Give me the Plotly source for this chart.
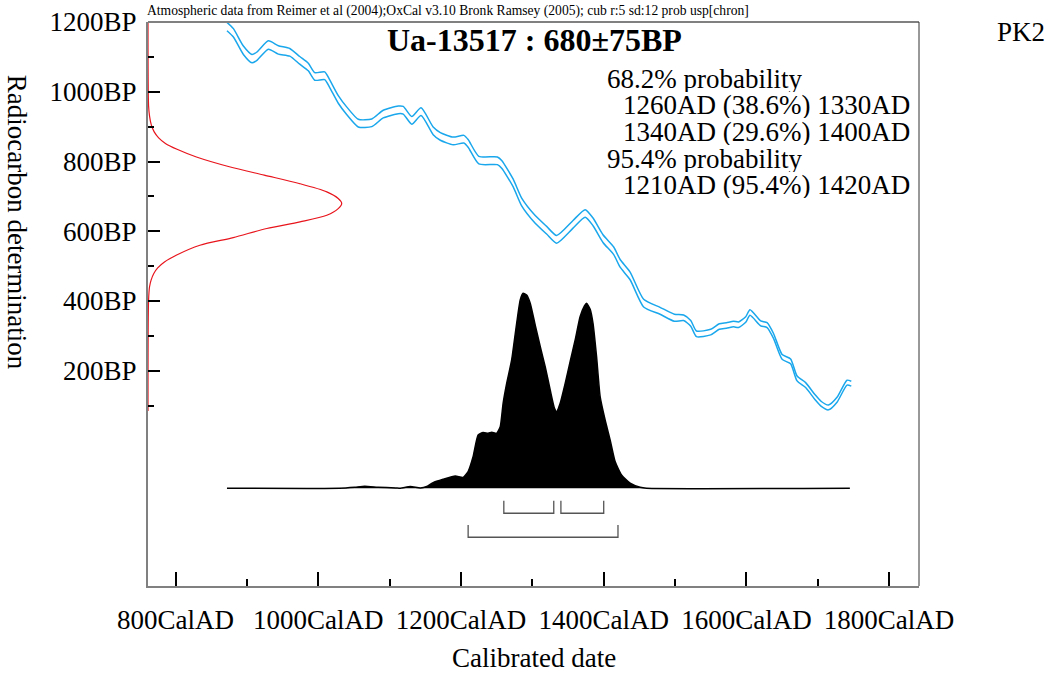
import plotly.graph_objects as go

# ---------------- data ----------------
# calibration curve (centre, BP) and 1-sigma half width
cal_year = [872, 881, 895, 907, 914, 930, 944, 960, 974, 986, 995, 1009, 1016, 1028, 1040,
            1056, 1075, 1091, 1112, 1119, 1131, 1144, 1161, 1171, 1189, 1204, 1210, 1225, 1251, 1257,
            1273, 1285, 1304, 1320, 1334, 1357, 1374, 1385, 1399, 1414, 1423, 1437, 1456, 1479, 1499,
            1512, 1522, 1530, 1550, 1562, 1572, 1582, 1589, 1599, 1605, 1620, 1629, 1638, 1650, 1662,
            1671, 1683, 1696, 1705, 1715, 1727, 1741, 1747]
cal_bp = [1187, 1169, 1119, 1095, 1102, 1134, 1120, 1113, 1090, 1071, 1044, 1046, 1023, 978, 945,
          910, 911, 936, 948, 947, 918, 943, 888, 872, 859, 864, 852, 804, 802, 792,
          739, 684, 634, 603, 577, 620, 651, 627, 579, 544, 508, 472, 394, 372, 352,
          352, 336, 306, 311, 327, 330, 334, 332, 347, 367, 336, 331, 300, 240, 227,
          178, 159, 125, 105, 95, 117, 166, 163]
cal_sigma = [12, 12, 12, 12, 12, 12, 12, 11, 11, 11, 11, 11, 11, 11, 11,
             11, 11, 11, 11, 11, 11, 11, 11, 11, 11, 11, 11, 11, 11, 11,
             11, 11, 11, 11, 11, 11, 11, 11, 11, 11, 11, 11, 11, 10, 10,
             8, 8, 8, 8, 8, 8, 8, 8, 8, 8, 7, 7, 7, 7, 7,
             7, 7, 7, 7, 7, 7, 7, 7]

# calibrated probability distribution (relative)
dist_year = [872, 1030, 1051, 1065, 1084, 1108, 1115, 1129, 1143, 1152,
             1161, 1175, 1192, 1203, 1210, 1217, 1224, 1231, 1238, 1243,
             1250, 1255, 1259, 1264, 1271, 1278, 1283, 1287, 1292, 1297,
             1304, 1311, 1318, 1325, 1331, 1334, 1339, 1346, 1353, 1360,
             1367, 1373, 1376, 1381, 1385, 1390, 1395, 1402, 1409, 1416,
             1425, 1437, 1451, 1460, 1745]
dist_prob = [0, 0, 0.005, 0.010, 0.005, 0.002, 0, 0.009, 0.002, 0.009,
             0.029, 0.046, 0.063, 0.056, 0.086, 0.163, 0.273, 0.286, 0.282, 0.287,
             0.282, 0.316, 0.436, 0.538, 0.658, 0.846, 0.966, 1.0, 0.991, 0.949,
             0.837, 0.727, 0.624, 0.504, 0.410, 0.393, 0.436, 0.538, 0.650, 0.761,
             0.881, 0.935, 0.949, 0.918, 0.846, 0.675, 0.470, 0.350, 0.248, 0.137,
             0.068, 0.026, 0.005, 0, 0]

# radiocarbon determination (relative density vs BP)
red_bp = [1200, 960, 930, 905, 885, 868, 852, 835, 813, 785, 761, 737, 713, 694, 680,
          665, 646, 627, 608, 582, 560, 532, 512, 495, 479, 460, 441, 403, 85]
red_p = [0, 0.003, 0.008, 0.017, 0.032, 0.055, 0.09, 0.15, 0.25, 0.42, 0.6, 0.78, 0.923, 0.982, 1.0,
         0.982, 0.923, 0.785, 0.613, 0.44, 0.268, 0.148, 0.085, 0.05, 0.03, 0.016, 0.008, 0.003, 0]

range68 = [(1260, 1330), (1340, 1400)]
range95 = [(1210, 1420)]

x_ticks = [800, 1000, 1200, 1400, 1600, 1800]
x_minor = [900, 1100, 1300, 1500, 1700]
y_ticks = [200, 400, 600, 800, 1000, 1200]
y_minor = [100, 300, 500, 700, 900, 1100]

title_text = "Ua-13517 : 680±75BP"
note_text = ("Atmospheric data from Reimer et al (2004);OxCal v3.10 Bronk Ramsey (2005); "
             "cub r:5 sd:12 prob usp[chron]")
prob_lines = [("68.2% probability", 0), ("1260AD (38.6%) 1330AD", 1), ("1340AD (29.6%) 1400AD", 1),
              ("95.4% probability", 0), ("1210AD (95.4%) 1420AD", 1)]

# ---------------- figure ----------------
FONT = "Liberation Serif, Times New Roman, serif"
BLUE = "#1aa7ec"
W, H = 1053, 675
L, R, T, B = 148, 919, 22, 586
FS = 27

fig = go.Figure()

upper = [c + s for c, s in zip(cal_bp, cal_sigma)]
lower = [c - s for c, s in zip(cal_bp, cal_sigma)]
for band in (upper, lower):
    fig.add_trace(go.Scatter(x=cal_year, y=band, mode="lines",
                             line=dict(color=BLUE, width=1.5, shape="spline", smoothing=0.6),
                             hoverinfo="skip", showlegend=False))

# probability distribution on secondary y axis
fig.add_trace(go.Scatter(x=dist_year, y=dist_prob, mode="lines", fill="tozeroy", fillcolor="black",
                         line=dict(color="black", width=1.5, shape="spline", smoothing=0.5),
                         yaxis="y2", hoverinfo="skip", showlegend=False))

# brackets
def bracket(x0, x1, ytop, ybot):
    return go.Scatter(x=[x0, x0, x1, x1], y=[ytop, ybot, ybot, ytop], mode="lines",
                      line=dict(color="#555555", width=1.3), yaxis="y2", hoverinfo="skip", showlegend=False)

for a, b in range68:
    fig.add_trace(bracket(a, b, -0.064, -0.128))
for a, b in range95:
    fig.add_trace(bracket(a, b, -0.188, -0.251))

# radiocarbon determination on secondary x axis
fig.add_trace(go.Scatter(x=red_p, y=red_bp, mode="lines",
                         line=dict(color="#e8141c", width=1.2, shape="spline", smoothing=0.8),
                         xaxis="x2", hoverinfo="skip", showlegend=False))

pw = R - L
ph = B - T

fig.update_layout(
    width=W, height=H,
    margin=dict(l=L, r=W - R, t=T, b=H - B, pad=0, autoexpand=False),
    paper_bgcolor="white", plot_bgcolor="white",
    font=dict(family=FONT, size=FS, color="black"),
    xaxis=dict(range=[761.3, 1841.9], showgrid=False, zeroline=False, automargin=False,
               showline=True, linecolor="#808080", linewidth=2,
               tickmode="array", tickvals=x_ticks, ticktext=[f"{v}CalAD" for v in x_ticks],
               ticks="inside", ticklen=14, tickwidth=1.5, tickcolor="black",
               minor=dict(tickmode="array", tickvals=x_minor, ticks="inside", ticklen=7, tickwidth=1.5, tickcolor="black"),
               tickfont=dict(family=FONT, size=FS), ticklabelstandoff=9),
    yaxis=dict(range=[-417, 1200], showgrid=False, zeroline=False, automargin=False,
               showline=True, linecolor="#808080", linewidth=2,
               tickmode="array", tickvals=y_ticks, ticktext=[f"{v}BP" for v in y_ticks],
               ticks="inside", ticklen=12, tickwidth=1.5, tickcolor="black",
               minor=dict(tickmode="array", tickvals=y_minor, ticks="inside", ticklen=6, tickwidth=1.5, tickcolor="black"),
               tickfont=dict(family=FONT, size=FS), ticklabelstandoff=4),
    yaxis2=dict(range=[-0.501, 2.391], overlaying="y", visible=False, showgrid=False, zeroline=False),
    xaxis2=dict(range=[0, pw / 193.7], overlaying="x", visible=False, showgrid=False, zeroline=False),
)

# frame: top and right
fig.add_shape(type="line", xref="x domain", yref="y domain", x0=0, x1=1, y0=1, y1=1,
              line=dict(color="#808080", width=2))
fig.add_shape(type="line", xref="x domain", yref="y domain", x0=1, x1=1, y0=0, y1=1,
              line=dict(color="#333333", width=1))

def px(xp):
    return (xp - L) / pw

def py(yp):
    return (B - yp) / ph

fig.add_annotation(text="<b>" + title_text + "</b>", x=px(534), y=py(40), xref="paper", yref="paper",
                   showarrow=False, font=dict(family=FONT, size=32, color="black"),
                   xanchor="center", yanchor="middle")
fig.add_annotation(text=note_text, x=px(145), y=py(10.5), xref="paper", yref="paper",
                   showarrow=False, font=dict(family=FONT, size=13.6, color="black"),
                   xanchor="left", yanchor="middle")
fig.add_annotation(text="PK2", x=px(1020.5), y=py(32), xref="paper", yref="paper",
                   showarrow=False, font=dict(family=FONT, size=FS, color="black"),
                   xanchor="center", yanchor="middle")

line_centres = [78.2, 104.8, 131.5, 158.2, 184.8]
for (txt, indent), yc in zip(prob_lines, line_centres):
    fig.add_annotation(text=txt, x=px(621 if indent else 604.5), y=py(yc), xref="paper", yref="paper",
                       showarrow=False, font=dict(family=FONT, size=FS, color="black"),
                       xanchor="left", yanchor="middle", height=27)

fig.add_annotation(text="Calibrated date", x=px(534), y=py(658), xref="paper", yref="paper",
                   showarrow=False, font=dict(family=FONT, size=FS, color="black"),
                   xanchor="center", yanchor="middle")
fig.add_annotation(text="Radiocarbon determination", x=px(17), y=py(221.7), xref="paper", yref="paper",
                   showarrow=False, textangle=90, font=dict(family=FONT, size=FS, color="black"),
                   xanchor="center", yanchor="middle")

fig.write_html("out.html", config={"displayModeBar": False},
               post_script="document.body.style.margin='0px';")
